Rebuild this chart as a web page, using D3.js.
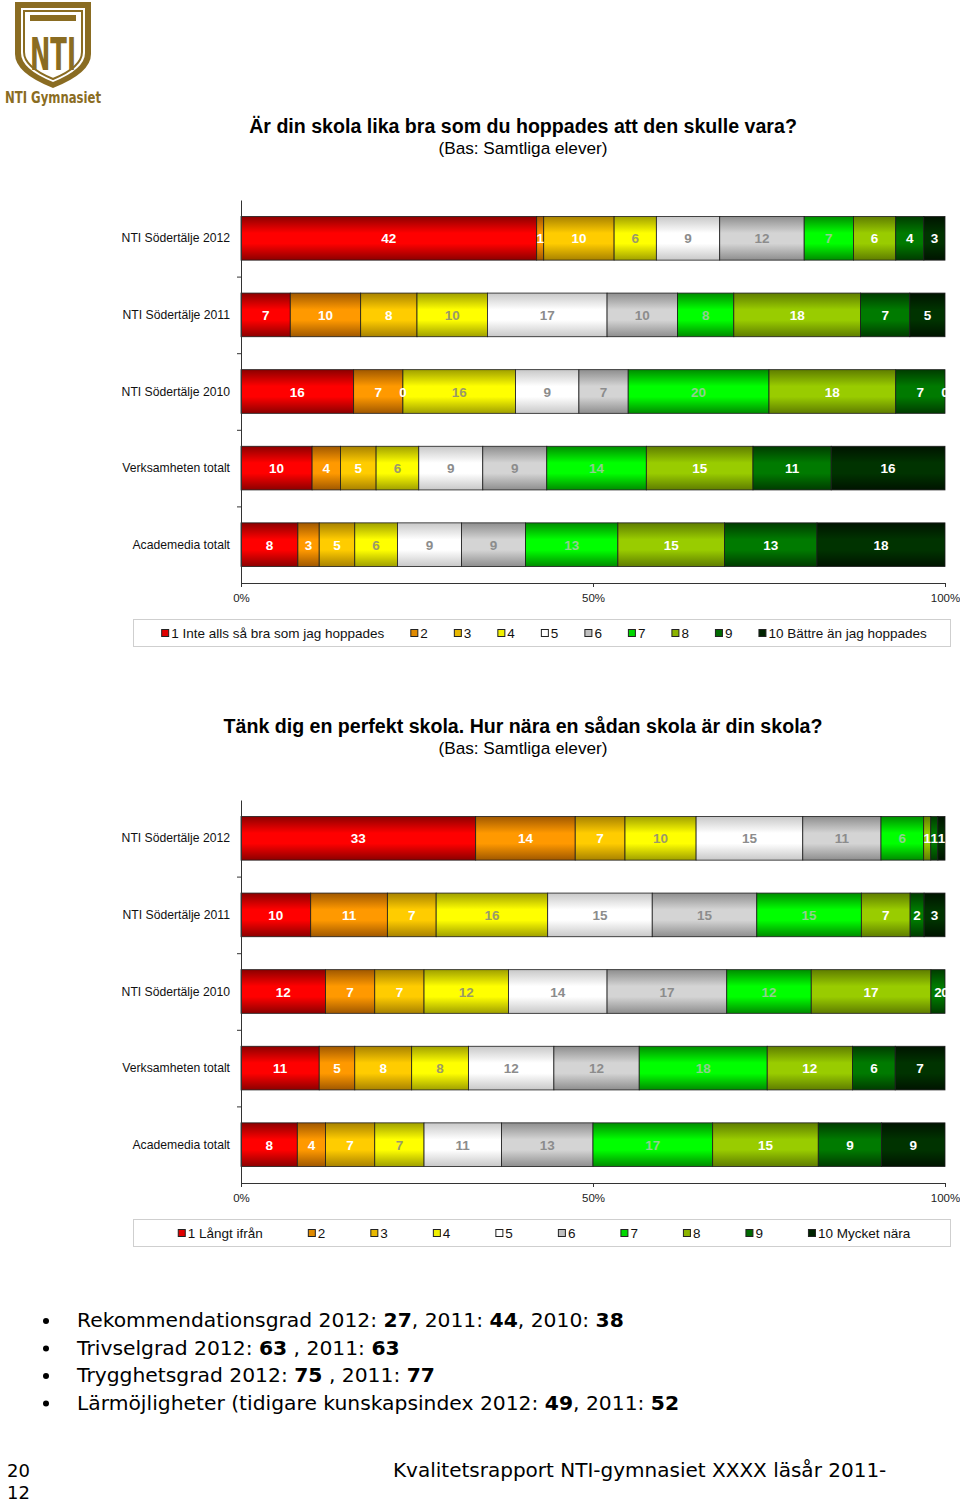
<!DOCTYPE html>
<html><head><meta charset="utf-8">
<script src="https://cdn.jsdelivr.net/npm/d3@7"></script>
<style>body{margin:0;background:#fff}svg{display:block}</style>
</head><body>
<script>
// ---------- DATA ----------
const categories = ["NTI Södertälje 2012","NTI Södertälje 2011","NTI Södertälje 2010","Verksamheten totalt","Academedia totalt"];
const levelKeys = ["1","2","3","4","5","6","7","8","9","10"];

const chart1Title = "Är din skola lika bra som du hoppades att den skulle vara?";
const chart1Subtitle = "(Bas: Samtliga elever)";
const chart1_2012 = [42,1,10,6,9,12,7,6,4,3];
const chart1_2011 = [7,10,8,10,17,10,8,18,7,5];
const chart1_2010 = [16,7,0,16,9,7,20,18,7,0];
const chart1_verksamheten = [10,4,5,6,9,9,14,15,11,16];
const chart1_academedia = [8,3,5,6,9,9,13,15,13,18];
const chart1Legend = ["1 Inte alls så bra som jag hoppades","2","3","4","5","6","7","8","9","10 Bättre än jag hoppades"];

const chart2Title = "Tänk dig en perfekt skola. Hur nära en sådan skola är din skola?";
const chart2Subtitle = "(Bas: Samtliga elever)";
const chart2_2012 = [33,14,7,10,15,11,6,1,1,1];
const chart2_2011 = [10,11,7,16,15,15,15,7,2,3];
const chart2_2010 = [12,7,7,12,14,17,12,17,2,0];
const chart2_verksamheten = [11,5,8,8,12,12,18,12,6,7];
const chart2_academedia = [8,4,7,7,11,13,17,15,9,9];
const chart2Legend = ["1 Långt ifrån","2","3","4","5","6","7","8","9","10 Mycket nära"];

const xTickValues = [0, 0.5, 1];
const xTickLabels = ["0%","50%","100%"];

const bulletLines = [
  [["Rekommendationsgrad 2012: ",0],["27",1],[", 2011: ",0],["44",1],[", 2010: ",0],["38",1]],
  [["Trivselgrad 2012: ",0],["63",1],[" , 2011: ",0],["63",1]],
  [["Trygghetsgrad 2012: ",0],["75",1],[" , 2011: ",0],["77",1]],
  [["Lärmöjligheter (tidigare kunskapsindex 2012: ",0],["49",1],[", 2011: ",0],["52",1]]
];
const footerLeft = ["20","12"];
const footerRight = "Kvalitetsrapport NTI-gymnasiet XXXX läsår 2011-";
const logoText = "NTI Gymnasiet";

// ---------- STYLE ----------
const baseColors = ["#FF0000","#FF9900","#FFCC00","#FFFF00","#FFFFFF","#D4D4D4","#00FF00","#99CC00","#007A00","#003300"];
const darkColors = ["#8C0000","#A05800","#A88200","#A0A000","#C8C8C8","#8E8E8E","#008C00","#5F7D00","#003C00","#001400"];
const labelColors = ["#fff","#fff","#fff","#9a9a6a","#8c8c8c","#8c8c8c","#8fcf8f","#fff","#fff","#fff"];

const W = 960, H = 1502;
const svg = d3.select("body").append("svg").attr("width", W).attr("height", H);
const defs = svg.append("defs");

baseColors.forEach((c, i) => {
  const g = defs.append("linearGradient").attr("id", "grad" + i)
    .attr("x1", 0).attr("y1", 0).attr("x2", 0).attr("y2", 1);
  g.append("stop").attr("offset", "0%").attr("stop-color", darkColors[i]);
  g.append("stop").attr("offset", "38%").attr("stop-color", c);
  g.append("stop").attr("offset", "62%").attr("stop-color", c);
  g.append("stop").attr("offset", "100%").attr("stop-color", darkColors[i]);
});
const legendColors = ["#E00000","#E08A00","#E8B800","#F0F000","#FFFFFF","#C0C0C0","#00D800","#8CB400","#006A00","#002400"];

// ---------- LOGO ----------
const gold = "#8a6c22";
const logo = svg.append("g");
logo.append("path").attr("d", "M15,2 L91,2 L91,54 Q91,73 53,88 Q15,73 15,54 Z").attr("fill", gold);
logo.append("path").attr("d", "M21,8 L85,8 L85,53 Q85,69 53,82 Q21,69 21,53 Z").attr("fill", "#fff");
logo.append("path").attr("d", "M24,11 L82,11 L82,52 Q82,67 53,79 Q24,67 24,52 Z").attr("fill", "none").attr("stroke", gold).attr("stroke-width", 2);
logo.append("rect").attr("x", 30).attr("y", 15).attr("width", 46).attr("height", 6).attr("fill", gold);
logo.append("text").attr("x", 53).attr("y", 70).attr("text-anchor", "middle")
  .attr("font-family", "'DejaVu Sans Condensed','Liberation Sans Narrow',sans-serif").attr("font-weight", "bold")
  .attr("font-size", 44).attr("fill", gold).attr("textLength", 46).attr("lengthAdjust", "spacingAndGlyphs").text("NTI");
logo.append("text").attr("x", 5).attr("y", 103)
  .attr("font-family", "'DejaVu Sans Condensed','Liberation Sans Narrow',sans-serif").attr("font-weight", "bold")
  .attr("font-size", 16).attr("fill", gold).attr("textLength", 96).attr("lengthAdjust", "spacingAndGlyphs").text(logoText);

// ---------- CHART ----------
function drawChart(cfg) {
  const g = svg.append("g");
  const x0 = 241, x1 = 945;
  const x = d3.scaleLinear().domain([0, 1]).range([x0, x1]);
  const rows = cfg.values.map((v, i) => {
    const o = { cat: categories[i] };
    levelKeys.forEach((k, j) => o[k] = v[j]);
    return o;
  });
  const y = d3.scaleBand().domain(categories).range([cfg.top, cfg.bottom]).paddingInner(0.43).paddingOuter(0.215);
  const stack = d3.stack().keys(levelKeys).offset(d3.stackOffsetExpand);
  const series = stack(rows);

  // titles
  g.append("text").attr("x", 523).attr("y", cfg.titleY).attr("text-anchor", "middle")
    .attr("font-family", "'Liberation Sans',Arial,sans-serif").attr("font-weight", "bold").attr("font-size", 19.6)
    .text(cfg.title);
  g.append("text").attr("x", 523).attr("y", cfg.titleY + 21).attr("text-anchor", "middle")
    .attr("font-family", "'Liberation Sans',Arial,sans-serif").attr("font-size", 17.2)
    .text(cfg.subtitle);

  // bars
  series.forEach((s, i) => {
    g.append("g").selectAll("rect").data(s).join("rect")
      .attr("x", d => x(d[0])).attr("y", d => y(d.data.cat))
      .attr("width", d => Math.max(0, x(d[1]) - x(d[0]))).attr("height", y.bandwidth())
      .attr("fill", "url(#grad" + i + ")").attr("stroke", "#1c1c1c").attr("stroke-width", 0.8);
  });

  // labels
  const clipId = "clip" + cfg.top;
  defs.append("clipPath").attr("id", clipId).append("rect")
    .attr("x", x0).attr("y", cfg.top).attr("width", x1 - x0 + 3).attr("height", cfg.bottom - cfg.top);
  const lg = g.append("g").attr("clip-path", "url(#" + clipId + ")");
  series.forEach((s, i) => {
    lg.append("g").selectAll("text").data(s).join("text")
      .attr("x", d => (x(d[0]) + x(d[1])) / 2)
      .attr("y", d => y(d.data.cat) + y.bandwidth() / 2 + 5)
      .attr("text-anchor", "middle")
      .attr("font-family", "'Liberation Sans Narrow','Arial Narrow','Liberation Sans',sans-serif")
      .attr("font-weight", "bold").attr("font-size", 13.5)
      .attr("fill", labelColors[i])
      .text(d => d.data[s.key]);
  });

  // left axis (boundaries)
  const yLin = d3.scaleLinear().domain([0, categories.length]).range([cfg.top, cfg.bottom]);
  const la = g.append("g").attr("transform", `translate(${x0},0)`)
    .call(d3.axisLeft(yLin).tickValues(d3.range(1, categories.length)).tickFormat("").tickSize(4).tickSizeOuter(0));
  la.selectAll("path,line").attr("stroke", "#333");

  // category labels
  g.append("g").selectAll("text").data(categories).join("text")
    .attr("x", 230).attr("y", d => y(d) + y.bandwidth() / 2 + 4)
    .attr("text-anchor", "end").attr("font-family", "'Liberation Sans',Arial,sans-serif").attr("font-size", 12.2)
    .attr("fill", "#111").text(d => d);

  // bottom axis
  const ba = g.append("g").attr("transform", `translate(0,${cfg.bottom})`)
    .call(d3.axisBottom(x).tickValues(xTickValues).tickFormat((d, i) => xTickLabels[i]).tickSize(4).tickSizeOuter(0).tickPadding(7));
  ba.selectAll("path,line").attr("stroke", "#333");
  ba.selectAll("text").attr("font-family", "'Liberation Sans',Arial,sans-serif").attr("font-size", 11.5).attr("fill", "#222");

  // legend
  const ly = cfg.bottom + 36;
  g.append("rect").attr("x", 133.5).attr("y", ly + 0.5).attr("width", 817).attr("height", 27)
    .attr("fill", "#fff").attr("stroke", "#cfcfcf");
  const items = g.append("g");
  const its = cfg.legend.map((t, i) => {
    const it = items.append("g");
    it.append("rect").attr("x", 0.5).attr("y", ly + 10.5).attr("width", 7).attr("height", 7)
      .attr("fill", legendColors[i]).attr("stroke", "#222").attr("stroke-width", 1);
    const tx = it.append("text").attr("x", 10).attr("y", ly + 18.5)
      .attr("font-family", "'Liberation Sans',Arial,sans-serif").attr("font-size", 13.5).attr("fill", "#111").text(t);
    return { it, w: 10 + tx.node().getComputedTextLength() };
  });
  const total = d3.sum(its, d => d.w) + cfg.legendGap * (its.length - 1);
  let cx = 544 - total / 2;
  its.forEach(d => { d.it.attr("transform", `translate(${cx},0)`); cx += d.w + cfg.legendGap; });
}

drawChart({ top: 200, bottom: 583, titleY: 133, title: chart1Title, subtitle: chart1Subtitle,
  values: [chart1_2012, chart1_2011, chart1_2010, chart1_verksamheten, chart1_academedia],
  legend: chart1Legend, legendGap: 26 });
drawChart({ top: 800, bottom: 1183, titleY: 733, title: chart2Title, subtitle: chart2Subtitle,
  values: [chart2_2012, chart2_2011, chart2_2010, chart2_verksamheten, chart2_academedia],
  legend: chart2Legend, legendGap: 45 });

// ---------- BULLETS ----------
const bf = "'DejaVu Sans',Verdana,sans-serif";
bulletLines.forEach((line, i) => {
  const yy = 1327 + i * 27.5;
  svg.append("circle").attr("cx", 46).attr("cy", yy - 6).attr("r", 3).attr("fill", "#000");
  const t = svg.append("text").attr("x", 77).attr("y", yy).attr("font-family", bf).attr("font-size", 20.3).attr("fill", "#000");
  line.forEach(p => t.append("tspan").attr("font-weight", p[1] ? "bold" : "normal").text(p[0]));
});

// ---------- FOOTER ----------
footerLeft.forEach((s, i) => {
  svg.append("text").attr("x", 7).attr("y", 1477 + i * 22).attr("font-family", bf).attr("font-size", 18).attr("fill", "#000").text(s);
});
svg.append("text").attr("x", 393).attr("y", 1477).attr("font-family", bf).attr("font-size", 20).attr("fill", "#000").text(footerRight);
</script>
</body></html>
